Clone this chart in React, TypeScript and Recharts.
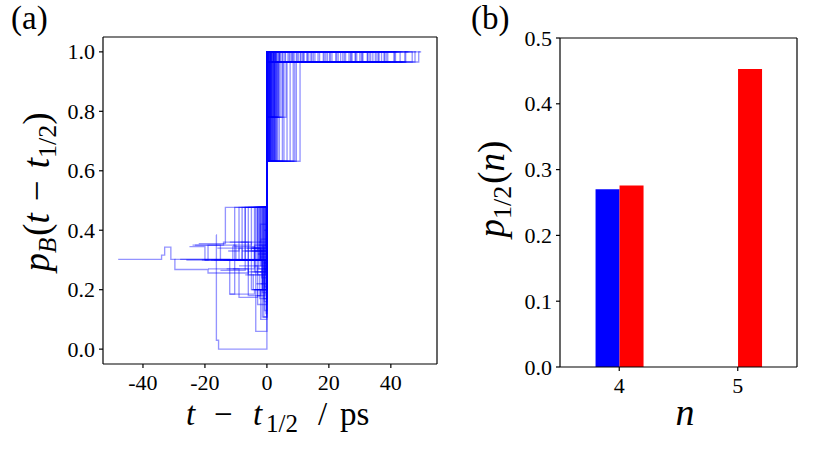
import React from 'react';
import { LineChart, Line, XAxis, YAxis, BarChart, Bar, ReferenceLine } from 'recharts';

// ---------- panel (a) ----------
const tTicks = [-40, -20, 0, 20, 40];
const pTicks = [0, 0.2, 0.4, 0.6, 0.8, 1.0];
const tDomain = [-52.9, 54.9];
const pDomain = [-0.05, 1.05];

// part of each trajectory before t_{1/2}: [t, pB] steps
const preSegments: number[][][] = [
  [[-48, 0.302], [-34, 0.316], [-33, 0.343], [-31, 0.302]],
  [[-29.8, 0.302], [-29.7, 0.268], [-19, 0.256], [-6, 0.3]],
  [[-23.2, 0.35], [-14, 0.36], [-5, 0.33]],
  [[-16.4, 0.384], [-16.3, 0.03], [-15.6, 0.0]],
  [[-22, 0.355], [-13.4, 0.477]],
  [[-12, 0.185], [-10.4, 0.477]],
  [[-25, 0.345], [-20, 0.3], [-8, 0.477]],
  [[-18, 0.3], [-7, 0.477]],
  [[-14, 0.3], [-6, 0.477]],
  [[-11, 0.35], [-5, 0.477]],
  [[-9, 0.3], [-4, 0.477]],
  [[-8, 0.33], [-3, 0.477]],
  [[-20, 0.3], [-2.5, 0.477]],
  [[-7, 0.3], [-2, 0.477]],
  [[-6, 0.26], [-1.5, 0.477]],
  [[-28, 0.302], [-12, 0.185], [-4, 0.2]],
  [[-19, 0.27], [-9, 0.174], [-3, 0.2]],
  [[-8, 0.3], [-3.6, 0.06]],
  [[-5, 0.26], [-1.5, 0.108]],
  [[-16, 0.34], [-8, 0.3], [-1, 0.108]],
  [[-12, 0.36], [-6, 0.25], [-3, 0.3]],
  [[-10, 0.3], [-5, 0.2]],
  [[-17, 0.3], [-9, 0.34], [-2, 0.28]],
  [[-5, 0.34], [-2, 0.3]],
  [[-4, 0.3], [-1, 0.35]],
  [[-3, 0.3], [-0.5, 0.25]],
  [[-2.5, 0.36]],
  [[-2, 0.3]],
  [[-1.5, 0.32]],
  [[-1, 0.27]],
  [[-13, 0.27], [-6, 0.18], [-2, 0.2]],
  [[-21, 0.3], [-11, 0.345], [-4, 0.26]],
  [[-9, 0.28], [-3, 0.15]],
  [[-7, 0.33], [-1, 0.477]],
  [[-15, 0.265], [-7, 0.3]],
  [[-4, 0.2], [-2, 0.1]],
  [[-6, 0.477]],
  [[-5.5, 0.3]],
  [[-4.5, 0.477]],
  [[-4, 0.33]],
  [[-3.5, 0.477]],
  [[-3, 0.25]],
  [[-2.8, 0.477]],
  [[-2.2, 0.31]],
  [[-1.8, 0.477]],
  [[-1.2, 0.29]],
  [[-0.8, 0.477]],
  [[-0.6, 0.35]],
  [[-9.5, 0.3], [-3.2, 0.477]],
  [[-11, 0.27], [-4, 0.35]],
  [[-7.5, 0.3], [-1.2, 0.2]],
  [[-6.5, 0.34], [-2.6, 0.27]],
  [[-13, 0.3], [-5, 0.34], [-1, 0.3]],
  [[-8.5, 0.36], [-2, 0.477]],
  [[-5, 0.2], [-1, 0.17]],
  [[-3, 0.3], [-0.8, 0.13]],
  [[-10, 0.3], [-7, 0.477]],
  [[-12.5, 0.33], [-9, 0.477]],
  [[-4.8, 0.3], [-2.4, 0.477]],
  [[-3.8, 0.28], [-1.6, 0.477]],
  [[-7, 0.25], [-4.4, 0.2]],
  [[-2, 0.22]],
  [[-1.6, 0.3]],
  [[-0.9, 0.4]],
  [[-24, 0.35], [-15, 0.3]],
  [[-26, 0.3], [-19, 0.35], [-10, 0.3]],
  [[-3, 0.3], [-0.3, 0.477]],
  [[-2.7, 0.25], [-0.4, 0.477]],
  [[-2.4, 0.33], [-0.2, 0.477]],
  [[-2.1, 0.2], [-0.7, 0.477]],
  [[-1.9, 0.3], [-1.1, 0.477]],
  [[-1.4, 0.26], [-0.5, 0.477]],
  [[-4.2, 0.3], [-0.9, 0.477]],
  [[-3.4, 0.22], [-1.3, 0.477]],
  [[-5.2, 0.3], [-2.9, 0.477]],
  [[-6.2, 0.3], [-3.7, 0.477]],
  [[-3.2, 0.18], [-0.6, 0.3]],
  [[-2.6, 0.35], [-1.4, 0.2]],
  [[-1.7, 0.27], [-0.3, 0.12]],
  [[-4.6, 0.25], [-2.3, 0.17]],
  [[-5.8, 0.3], [-0.7, 0.21]],
  [[-2.9, 0.32]],
  [[-2.3, 0.26]],
  [[-1.1, 0.34]],
  [[-0.7, 0.29]],
  [[-0.4, 0.22]],
  [[-3.6, 0.3], [-1.9, 0.37]],
  [[-4.4, 0.34], [-0.2, 0.4]],
  [[-6.8, 0.3], [-2.1, 0.42]],
  [[-1.3, 0.477]],
  [[-0.5, 0.477]],
  [[-2.6, 0.477]],
  [[-3.9, 0.477]],
  [[-5.6, 0.3], [-1.7, 0.24]],
  [[-3.3, 0.27], [-1.5, 0.19]],
  [[-2.2, 0.3], [-0.9, 0.16]],
];

// part of each trajectory after t_{1/2}: [t, pB] steps
const postSegments: number[][][] = [
  [[0, 1.0], [49.8, 1.0]],
  [[0, 0.966], [46.9, 1.0]],
  [[0, 1.0], [2, 0.966], [44.5, 1.0], [45.5, 1.0]],
  [[0, 0.632], [10.7, 0.966], [41, 1.0], [42, 1.0]],
  [[0, 0.632], [8.5, 1.0], [38, 0.966], [40, 0.966]],
  [[0, 0.632], [6.5, 0.966], [36, 1.0], [37, 1.0]],
  [[0, 0.632], [5, 1.0], [33, 0.966], [34.5, 0.966]],
  [[0, 0.632], [3.5, 0.966], [31, 1.0], [32, 1.0]],
  [[0, 0.632], [2.5, 1.0], [29, 0.966], [30, 0.966]],
  [[0, 0.632], [1.5, 0.966], [27, 1.0], [28, 1.0]],
  [[0, 0.632], [1, 1.0], [25, 0.966], [26, 0.966]],
  [[0, 0.78], [6.2, 0.966], [23, 1.0], [24, 1.0]],
  [[0, 0.78], [4.5, 1.0], [21, 0.966], [22, 0.966]],
  [[0, 0.78], [3.2, 0.966], [19, 1.0], [20, 1.0]],
  [[0, 0.78], [2, 1.0], [17, 0.966], [18, 0.966]],
  [[0, 0.966], [15, 1.0], [16, 1.0]],
  [[0, 1.0], [13, 0.966], [14, 0.966]],
  [[0, 0.966], [11.5, 1.0], [12.5, 1.0]],
  [[0, 1.0], [9.5, 0.966], [10.5, 0.966]],
  [[0, 0.966], [8, 1.0], [9, 1.0]],
  [[0, 1.0], [6, 0.966], [7, 0.966]],
  [[0, 0.966], [4, 1.0], [5, 1.0]],
  [[0, 1.0], [3, 0.966], [3.5, 0.966]],
  [[0, 0.966], [1.5, 1.0], [2, 1.0]],
  [[0, 1.0], [1, 1.0]],
  [[0, 0.632], [0.6, 1.0], [43, 0.966], [43.5, 0.966]],
  [[0, 0.966], [30.5, 1.0], [31, 1.0]],
  [[0, 1.0], [35.5, 0.966], [36, 0.966]],
  [[0, 0.966], [39, 1.0], [39.5, 1.0]],
  [[0, 1.0], [26.5, 0.966], [27, 0.966]],
  [[0, 0.966], [22.5, 1.0], [23, 1.0]],
  [[0, 1.0], [18.5, 0.966], [19, 0.966]],
  [[0, 0.966], [14.5, 1.0], [15, 1.0]],
  [[0, 1.0], [48, 1.0]],
  [[0, 0.632], [9.5, 0.966], [28.5, 1.0], [29, 1.0]],
  [[0, 0.966], [33.5, 1.0], [34, 1.0]],
  [[0, 0.632], [0.3, 1.0], [46, 1.0]],
  [[0, 0.632], [0.8, 0.966], [44, 0.966]],
  [[0, 0.632], [1.2, 1.0], [41.5, 0.966], [42, 0.966]],
  [[0, 0.632], [1.8, 0.966], [38.5, 1.0], [39, 1.0]],
  [[0, 0.632], [2.2, 1.0], [35, 0.966], [35.5, 0.966]],
  [[0, 0.632], [3, 0.966], [32.5, 1.0], [33, 1.0]],
  [[0, 0.632], [4, 1.0], [30, 0.966], [30.5, 0.966]],
  [[0, 0.632], [5.5, 0.966], [27.5, 1.0], [28, 1.0]],
  [[0, 0.632], [7.5, 1.0], [24.5, 0.966], [25, 0.966]],
  [[0, 0.632], [9, 0.966], [20.5, 1.0], [21, 1.0]],
  [[0, 0.78], [2.6, 0.966], [16.5, 1.0], [17, 1.0]],
  [[0, 0.78], [5.2, 1.0], [12, 0.966], [12.5, 0.966]],
  [[0, 0.78], [3.8, 0.966], [9.8, 1.0], [10, 1.0]],
  [[0, 0.966], [0.5, 1.0], [47, 1.0]],
  [[0, 1.0], [0.4, 0.966], [45, 0.966]],
  [[0, 0.966], [2.5, 1.0], [40.5, 1.0]],
  [[0, 1.0], [1.8, 0.966], [37.5, 0.966]],
  [[0, 0.966], [3.3, 1.0], [34.5, 1.0]],
  [[0, 1.0], [4.2, 0.966], [31.5, 0.966]],
  [[0, 0.966], [5.8, 1.0], [29.5, 1.0]],
  [[0, 1.0], [7.2, 0.966], [26, 0.966]],
  [[0, 0.966], [8.8, 1.0], [24, 1.0]],
  [[0, 1.0], [10.2, 0.966], [21.5, 0.966]],
  [[0, 0.966], [11.8, 1.0], [18, 1.0]],
  [[0, 1.0], [13.5, 0.966], [16, 0.966]],
  [[0, 0.632], [0.2, 0.966], [49, 1.0], [49.5, 1.0]],
  [[0, 0.966], [0.7, 1.0], [42.5, 1.0]],
  [[0, 1.0], [0.9, 0.966], [37, 1.0], [38, 1.0]],
  [[0, 0.966], [1.3, 1.0], [2.8, 0.966], [33, 0.966]],
  [[0, 1.0], [6.8, 0.966], [13, 1.0], [14, 1.0]],
  [[0, 0.632], [0.4, 0.966], [19.5, 1.0], [20, 1.0]],
  [[0, 0.632], [0.7, 1.0], [15.5, 0.966], [16, 0.966]],
  [[0, 0.632], [1.1, 0.966], [11, 1.0], [11.5, 1.0]],
  [[0, 0.632], [1.4, 1.0], [8.2, 0.966], [8.5, 0.966]],
  [[0, 0.632], [1.7, 0.966], [44.8, 1.0], [45, 1.0]],
  [[0, 0.632], [2.1, 1.0], [41.2, 0.966], [41.5, 0.966]],
  [[0, 0.632], [2.4, 0.966], [37.8, 1.0], [38, 1.0]],
  [[0, 0.632], [2.8, 1.0], [34.2, 0.966], [34.5, 0.966]],
  [[0, 0.632], [0.15, 1.0], [5, 1.0]],
  [[0, 0.632], [0.5, 0.966], [6.5, 0.966]],
  [[0, 0.78], [0.3, 1.0], [30.8, 0.966], [31, 0.966]],
  [[0, 0.78], [0.8, 0.966], [27.2, 1.0], [27.5, 1.0]],
  [[0, 0.78], [1.3, 1.0], [23.8, 0.966], [24, 0.966]],
  [[0, 0.78], [1.6, 0.966], [20.2, 1.0], [20.5, 1.0]],
  [[0, 0.632], [0.9, 0.78], [2.3, 1.0], [16.8, 1.0]],
  [[0, 0.632], [1.9, 0.78], [3.6, 0.966], [13.2, 0.966]],
  [[0, 0.966], [0.25, 1.0], [9.2, 1.0]],
  [[0, 1.0], [0.35, 0.966], [7.4, 0.966]],
  [[0, 0.966], [0.6, 1.0], [3.8, 0.966], [4.4, 0.966]],
  [[0, 1.0], [1.1, 0.966], [36.2, 1.0], [36.5, 1.0]],
  [[0, 0.966], [1.5, 1.0], [32.4, 0.966], [32.8, 0.966]],
  [[0, 1.0], [2.1, 0.966], [28.6, 1.0], [29, 1.0]],
  [[0, 0.966], [2.7, 1.0], [25.4, 0.966], [25.8, 0.966]],
  [[0, 1.0], [0.2, 0.966], [22.2, 1.0], [22.6, 1.0]],
  [[0, 0.632], [2.6, 0.966], [18.2, 1.0], [18.6, 1.0]],
  [[0, 0.632], [3.2, 1.0], [14.2, 0.966], [14.6, 0.966]],
  [[0, 0.632], [0.25, 0.78], [1.0, 1.0], [10.8, 0.966], [11.2, 0.966]],
  [[0, 0.632], [0.55, 0.966], [47.8, 1.0], [48.2, 1.0]],
  [[0, 0.632], [1.25, 1.0], [43.8, 1.0]],
  [[0, 0.632], [0.85, 0.966], [39.8, 0.966]],
];

// ---------- panel (b) ----------
const nCategories = ['4', '5'];
const blueValues = [0.27, 0];
const redValues = [0.276, 0.453];
const barTicks = [0, 0.1, 0.2, 0.3, 0.4, 0.5];

const traces = preSegments.map((pre, i) =>
  [...pre, ...postSegments[i]].map(([t, p]) => ({ t, p }))
);
const barData = nCategories.map((n, i) => ({ n, blue: blueValues[i], red: redValues[i] }));

const FONT = "'Liberation Serif', 'Times New Roman', serif";
const AX = '#000';
const SW = 1.2;
const TICK_FS = 22;
const textCss = { fontFamily: FONT, fontSize: TICK_FS, fill: '#000' };

const makeXTick = (fmt: (v: any) => string) => (props: any) => {
  const { x, y, payload } = props;
  return (
    <text x={x} y={y} dy={18} textAnchor="middle" style={textCss}>
      {fmt(payload.value)}
    </text>
  );
};
const makeYTick = (fmt: (v: any) => string) => (props: any) => {
  const { x, y, payload } = props;
  return (
    <text x={x} y={y} dy={7.5} textAnchor="end" style={textCss}>
      {fmt(payload.value)}
    </text>
  );
};
const intFmt = (v: any) => String(v);
const oneDec = (v: any) => Number(v).toFixed(1);

export default function App() {
  return (
    <div style={{ position: 'absolute', left: 0, top: 0, width: 830, height: 456, background: '#fff', overflow: 'hidden', fontFamily: FONT }}>
      <div style={{ position: 'absolute', left: 0, top: 0 }}>
        <LineChart width={440} height={456} margin={{ top: 37, right: 3, bottom: 62, left: 0 }}>
          <XAxis
            dataKey="t"
            type="number"
            domain={tDomain}
            ticks={tTicks}
            allowDataOverflow
            height={30}
            stroke={AX}
            strokeWidth={SW}
            tickSize={4}
            tickMargin={4}
            tick={makeXTick(intFmt)}
          />
          <YAxis
            dataKey="p"
            type="number"
            domain={pDomain}
            ticks={pTicks}
            allowDataOverflow
            width={103}
            stroke={AX}
            strokeWidth={SW}
            tickSize={4}
            tickMargin={4}
            tick={makeYTick(oneDec)}
          />
          {traces.map((d, i) => (
            <Line
              key={i}
              data={d}
              dataKey="p"
              type="stepAfter"
              stroke="#0000ff"
              strokeOpacity={0.42}
              strokeWidth={1.35}
              dot={false}
              activeDot={false}
              isAnimationActive={false}
            />
          ))}
          <ReferenceLine y={pDomain[1]} stroke={AX} strokeWidth={SW} />
          <ReferenceLine x={tDomain[1]} stroke={AX} strokeWidth={SW} />
        </LineChart>
      </div>

      <div style={{ position: 'absolute', left: 460, top: 0 }}>
        <BarChart
          width={340}
          height={456}
          data={barData}
          barCategoryGap="30%"
          barGap={0}
          margin={{ top: 38, right: 3, bottom: 59, left: 0 }}
        >
          <XAxis
            dataKey="n"
            height={30}
            stroke={AX}
            strokeWidth={SW}
            tickSize={4}
            tickMargin={4}
            tick={makeXTick(intFmt)}
          />
          <YAxis
            type="number"
            domain={[0, 0.5]}
            ticks={barTicks}
            width={100}
            stroke={AX}
            strokeWidth={SW}
            tickSize={4}
            tickMargin={4}
            tick={makeYTick(oneDec)}
          />
          <Bar dataKey="blue" fill="#0000ff" isAnimationActive={false} />
          <Bar dataKey="red" fill="#ff0000" isAnimationActive={false} />
          <ReferenceLine y={0.5} stroke={AX} strokeWidth={SW} />
          <ReferenceLine x={nCategories[nCategories.length - 1]} position="end" stroke={AX} strokeWidth={SW} />
        </BarChart>
      </div>

      <svg width={830} height={456} style={{ position: 'absolute', left: 0, top: 0, pointerEvents: 'none', fontFamily: FONT }} fill="#000">
        <text x={11} y={29} fontSize={33}>(a)</text>
        <text x={471} y={29} fontSize={33}>(b)</text>

        <text y={425} fontSize={33}>
          <tspan x={186} fontStyle="italic">t</tspan>
          <tspan x={214}>−</tspan>
          <tspan x={253} fontStyle="italic">t</tspan>
          <tspan x={266} fontSize={25} dy={7}>1/2</tspan>
          <tspan x={318} dy={-7}>/</tspan>
          <tspan x={340}>ps</tspan>
        </text>

        <text transform="translate(49,192) rotate(-90)" textAnchor="middle" fontSize={37}>
          <tspan fontStyle="italic">p</tspan>
          <tspan fontStyle="italic" fontSize={25} dy={7}>B</tspan>
          <tspan dx={2} dy={-7}>(</tspan>
          <tspan fontStyle="italic">t</tspan>
          <tspan dx={12}>−</tspan>
          <tspan dx={12} fontStyle="italic">t</tspan>
          <tspan fontSize={26} dy={7}>1/2</tspan>
          <tspan dy={-7}>)</tspan>
        </text>

        <text transform="translate(504,189) rotate(-90)" textAnchor="middle" fontSize={37}>
          <tspan fontStyle="italic">p</tspan>
          <tspan fontSize={26} dy={7}>1/2</tspan>
          <tspan dx={2} dy={-7}>(</tspan>
          <tspan fontStyle="italic">n</tspan>
          <tspan>)</tspan>
        </text>

        <text x={685} y={425} textAnchor="middle" fontSize={38} fontStyle="italic">n</text>
      </svg>
    </div>
  );
}
